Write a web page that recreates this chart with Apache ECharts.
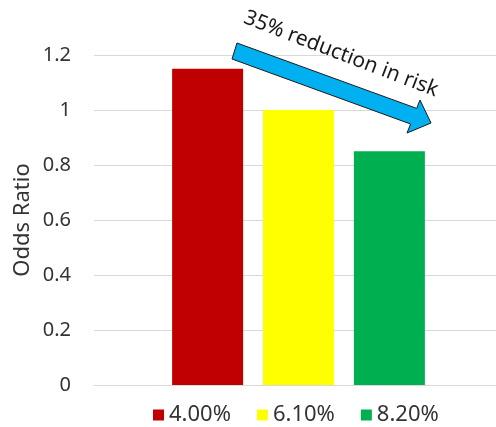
<!DOCTYPE html>
<html lang="en">
<head>
    <meta charset="UTF-8">
    <title>Odds Ratio</title>
    <script src="https://cdn.jsdelivr.net/npm/echarts@6/dist/echarts.min.js"></script>
    <style>
        html, body { margin: 0; padding: 0; background: #fff; }
        #chart { width: 496px; height: 427px; }
    </style>
</head>
<body>
<div id="chart"></div>
<script type="text/javascript">
    // data
    var categories = [''];
    var seriesNames = ['4.00%', '6.10%', '8.20%'];
    var seriesValues = [1.15, 1.0, 0.85];
    var seriesColors = ['#C00000', '#FFFF00', '#00B050'];
    var yMin = 0, yMax = 1.2, yStep = 0.2;
    var note = '35% reduction in risk';

    var font = 'Noto Sans';
    var series = [];
    for (var i = 0; i < seriesNames.length; i++) {
        series.push({
            name: seriesNames[i],
            type: 'bar',
            xAxisIndex: 1,
            yAxisIndex: 1,
            data: [seriesValues[i]],
            barWidth: 71,
            barGap: '28%',
            itemStyle: { color: seriesColors[i] }
        });
    }

    // grid 0 carries the labels + gridlines, grid 1 the bars (plot runs past the right edge in the original)
    var chart = echarts.init(document.getElementById('chart'));
    chart.setOption({
        animation: false,
        textStyle: { fontFamily: font },
        grid: [
            { left: 94, top: 55, right: 0, height: 330 },
            { left: 101, top: 55, right: 0, height: 330 }
        ],
        legend: {
            left: 153,
            top: 404,
            padding: 0,
            itemWidth: 11,
            itemHeight: 11,
            itemGap: 26,
            icon: 'rect',
            textStyle: { fontSize: 22, color: '#333', fontFamily: font },
            data: seriesNames
        },
        xAxis: [
            {
                type: 'category',
                gridIndex: 0,
                data: categories,
                axisTick: { show: false },
                axisLabel: { show: false },
                axisLine: { lineStyle: { color: '#d9d9d9', width: 1 } }
            },
            {
                type: 'category',
                gridIndex: 1,
                data: categories,
                show: false
            }
        ],
        yAxis: [
            {
                type: 'value',
                gridIndex: 0,
                min: yMin,
                max: yMax,
                interval: yStep,
                name: 'Odds Ratio',
                nameLocation: 'middle',
                nameMoveOverlap: false,
                nameGap: 60,
                nameTextStyle: { fontSize: 22, color: '#333', fontFamily: font },
                axisLine: { show: false },
                axisTick: { show: false },
                axisLabel: { fontSize: 20, color: '#333', margin: 23, fontFamily: font },
                splitLine: { lineStyle: { color: '#d9d9d9', width: 1 } }
            },
            {
                type: 'value',
                gridIndex: 1,
                min: yMin,
                max: yMax,
                interval: yStep,
                show: false,
                splitLine: { show: false }
            }
        ],
        series: series,
        graphic: [
            {
                type: 'polygon',
                shape: {
                    points: [[237, 43], [416.7, 108.4], [420, 100], [431, 123],
                             [407, 133], [410.6, 124], [232, 59]]
                },
                style: { fill: '#00B0F0', stroke: '#1a1a1a', lineWidth: 1 },
                z: 10
            },
            {
                type: 'text',
                x: 341,
                y: 54,
                rotation: -21 * Math.PI / 180,
                style: {
                    text: note,
                    fontSize: 21,
                    fontFamily: font,
                    fill: '#1a1a1a',
                    align: 'center',
                    verticalAlign: 'middle'
                },
                z: 10
            }
        ]
    });
</script>
</body>
</html>
